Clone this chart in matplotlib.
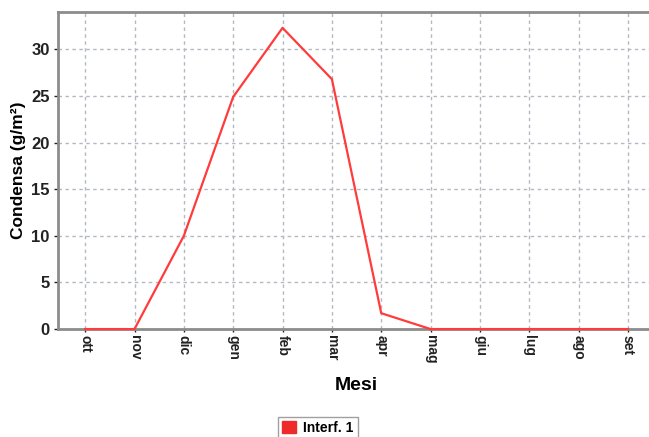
import matplotlib
matplotlib.use("Agg")
import matplotlib.pyplot as plt

months = ["ott", "nov", "dic", "gen", "feb", "mar", "apr", "mag", "giu", "lug", "ago", "set"]
condensa = [0, 0, 10.0, 24.9, 32.3, 26.8, 1.7, 0, 0, 0, 0, 0]
series_name = "Interf. 1"

plt.rcParams["font.family"] = ["Liberation Sans", "DejaVu Sans"]

fig = plt.figure(figsize=(6.49, 4.37), dpi=100)
ax = fig.add_axes([0.0894, 0.247, 0.92, 0.7255])

x = list(range(len(months)))
ax.plot(x, condensa, color="#ff3b3b", lw=1.6, label=series_name, clip_on=False, zorder=5)

ax.set_xlim(-0.55, 11.55)
ax.set_ylim(0, 34)
ax.set_xticks(x)
ax.set_xticklabels(months, rotation=270, fontsize=10, fontweight="bold", color="#222222")
ax.set_yticks([0, 5, 10, 15, 20, 25, 30])
ax.tick_params(axis="y", labelsize=12, colors="#222222", length=3, width=1, pad=3)
ax.tick_params(axis="x", length=2, width=1, colors="#222222", pad=2)
for lbl in ax.get_yticklabels():
    lbl.set_fontweight("bold")

ax.grid(True, color="#b4b8c0", linestyle=(0, (2.5, 2.5)), linewidth=1)
for side in ["left", "top", "bottom", "right"]:
    ax.spines[side].set_color("#8c8c8c")
    ax.spines[side].set_linewidth(2)

ax.set_ylabel("Condensa (g/m²)", fontsize=12.5, fontweight="bold", labelpad=4)
ax.set_xlabel("Mesi", fontsize=14, fontweight="bold", labelpad=10)

leg = fig.legend(handles=[plt.Rectangle((0, 0), 1, 1, color="#ee2a2a")], labels=[series_name],
                 loc="center", bbox_to_anchor=(318 / 649, 1 - 428 / 437),
                 fontsize=10, frameon=True, fancybox=False, handlelength=1.0, handleheight=1.0,
                 handletextpad=0.5, borderpad=0.3, edgecolor="#888888")
for t in leg.get_texts():
    t.set_fontweight("bold")

fig.savefig("out.png", dpi=100)
